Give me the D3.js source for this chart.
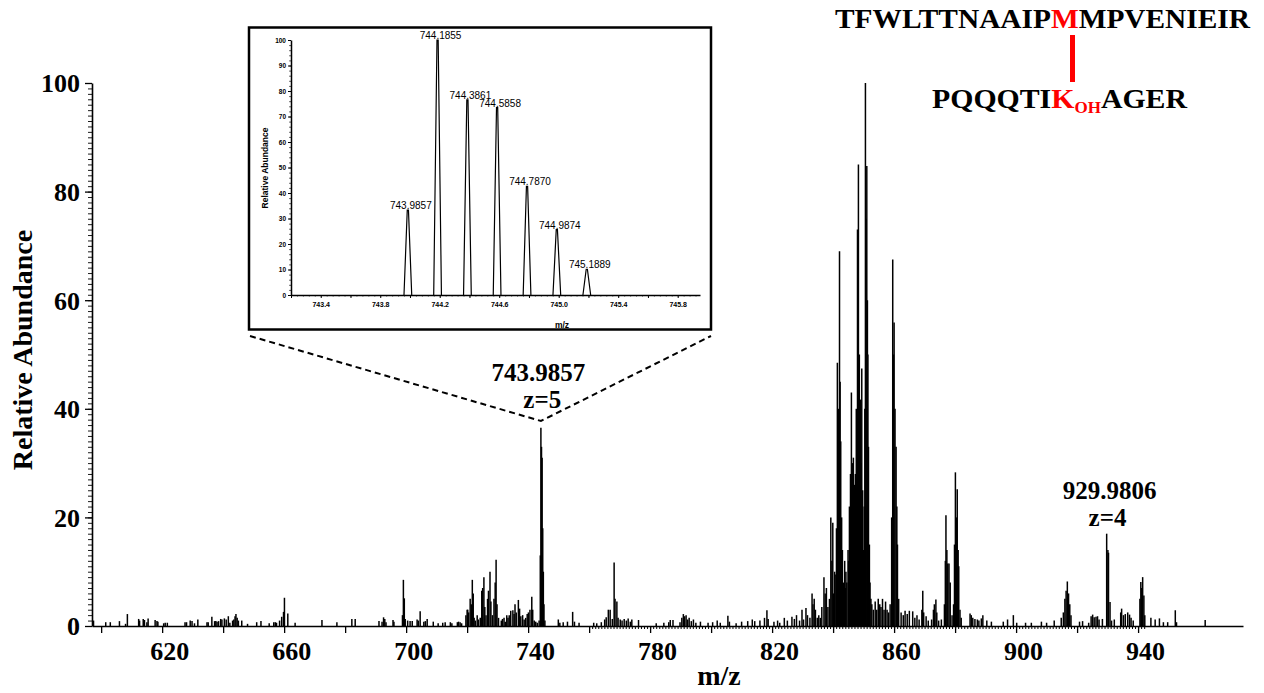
<!DOCTYPE html>
<html>
<head>
<meta charset="utf-8">
<script src="https://cdnjs.cloudflare.com/ajax/libs/d3/7.8.5/d3.min.js"></script>
<style>
  body { margin: 0; background: #fff; }
  svg { display: block; }
  .serif { font-family: "Liberation Serif", "Times New Roman", serif; font-weight: bold; }
  .sans { font-family: "Liberation Sans", Arial, sans-serif; }
</style>
</head>
<body>
<div class="chart"></div>
<script>
// ---- spectrum data: [m/z, relative abundance] ----
var peaksLow = [
  [597.5,1.0],[601.5,0.7],[603.0,0.7],[606.0,0.9],[608.0,0.4],[608.6,2.2],[612.3,1.3],[612.6,1.0],
  [613.8,1.3],[614.2,1.1],[615.0,0.7],[615.4,1.4],[617.7,1.1],[618.3,0.9],[618.6,0.8],[620.5,0.5],
  [621.0,0.6],[621.7,0.6],[627.5,0.7],[628.0,0.7],[629.2,1.0],[629.8,0.9],[630.6,0.5],[631.7,1.2],
  [634.7,0.7],[635.1,0.7],[636.3,1.7],[637.2,0.9],[637.6,0.9],[638.0,0.8],[638.5,0.9],[639.2,1.3],
  [639.6,1.2],[640.4,1.4],[641.0,1.2],[641.7,1.8],[642.2,0.6],[643.1,1.0],[643.5,1.2],[643.9,1.8],
  [644.2,2.2],[644.6,1.5],[645.0,1.0],[646.1,1.0],[648.0,0.4],[651.0,0.7],[652.4,0.9],[655.1,0.5],
  [656.6,0.7],[657.1,0.7],[657.5,0.6],[658.5,1.0],[659.2,1.7],[659.8,2.6],[660.1,5.2],[661.2,2.3],
  [663.6,0.6],[672.4,1.1],[677.3,0.7],[682.2,1.3],[683.3,1.3],[691.1,0.9],[692.1,0.8],[692.6,1.6],
  [693.0,1.3],[693.4,0.7],[695.7,1.1],[696.0,0.8],[698.8,2.0],[699.1,8.5],[699.4,5.1],[699.7,1.3]
];

var peaksMid = [
  [700.5,1.0],[701.3,0.9],[702.0,0.9],[703.6,1.2],[704.0,1.0],[704.6,2.7],[705.8,0.8],[706.3,0.9],
  [706.9,1.3],[708.9,0.8],[710.5,0.5],[712.0,0.6],[712.8,0.7],[714.5,0.7],[715.0,0.5],[716.8,0.7],
  [717.2,0.8],[717.7,0.7],[718.2,0.5],[719.6,2.0],[720.0,3.0],[720.2,3.0],[720.5,2.5],[721.0,5.0],
  [721.4,4.0],[721.7,8.5],[722.0,6.0],[722.3,1.5],[722.7,1.0],[723.3,2.0],[723.7,1.2],[724.3,1.5],
  [724.8,6.5],[725.1,7.0],[725.5,9.0],[725.8,3.5],[726.2,2.0],[726.7,5.0],[727.0,6.5],[727.5,10.0],
  [727.8,4.5],[728.3,2.0],[728.8,5.0],[729.2,8.0],[729.5,12.2],[729.8,4.0],[730.3,1.5],[731.2,1.0],
  [731.6,1.3],[732.1,1.5],[732.5,0.8],[733.0,2.0],[733.4,1.5],[733.8,2.0],[734.3,2.8],[735.0,2.9],
  [735.4,2.2],[735.7,4.0],[736.1,2.5],[736.8,4.8],[737.2,3.2],[737.6,1.8],[738.2,2.0],[738.7,1.2],
  [739.2,1.5],[739.7,2.2],[740.1,2.5],[740.6,3.0],[741.2,5.4],[741.5,3.0],[742.0,1.0],[742.5,0.8],
  [743.0,0.6],[743.6,1.0],[743.99,13.0],[744.19,36.5],[744.39,33.0],[744.59,31.0],[744.79,18.0],
  [744.99,10.0],[745.19,4.0],[745.5,1.0],[749.9,1.2],[750.4,0.6],[751.5,0.7],[752.9,0.8],[754.6,2.6],
  [755.2,0.8],[756.7,0.6]
];

var peaksUpper = [
  [761.5,0.6],[762.5,0.5],[764.0,0.7],[765.1,1.2],[765.6,1.6],[766.3,3.0],[766.9,3.0],[767.6,1.3],
  [768.2,11.7],[768.5,5.0],[769.1,4.5],[769.5,1.5],[770.2,1.2],[770.8,1.0],[771.5,1.3],[772.2,1.0],
  [772.8,1.4],[773.5,0.8],[774.0,1.2],[776.2,1.1],[782.0,0.5],[784.5,0.6],[786.1,0.7],[786.6,1.1],
  [787.5,1.1],[789.8,0.7],[790.4,1.5],[790.9,2.2],[791.3,1.8],[791.8,2.0],[792.3,1.2],[792.8,1.5],
  [793.5,0.9],[794.2,1.2],[795.0,0.6],[796.5,0.8],[799.0,0.6],[800.5,0.7],[802.0,1.0],[803.0,0.6],
  [805.5,1.9],[806.0,0.8],[808.2,0.5],[810.0,0.8],[812.0,0.9],[813.5,1.2],[814.3,0.9],[816.0,1.0],
  [817.5,1.5],[818.3,2.9],[818.7,1.3],[820.6,0.8],[821.8,1.0],[822.5,0.6],[824.0,1.5],[825.0,1.0],
  [826.5,1.7],[827.3,1.3],[828.0,2.0],[829.0,1.0],[829.8,3.0],[830.3,1.2],[831.1,3.3],[831.6,2.0],
  [832.4,1.5],[833.1,6.0],[833.4,4.0],[833.8,5.0],[834.2,3.0],[834.8,1.5],[835.3,2.0],[835.8,1.5],
  [836.3,3.5]
];

var peaksCluster = [
  [837.0,9.0],[837.4,6.0],[837.8,7.0],[838.3,3.5],[838.8,5.0],[839.25,20.0],[839.6,12.0],[839.9,19.0],
  [840.2,6.0],[840.5,10.0],[840.9,9.5],[841.1,18.0],[841.4,48.5],[841.7,40.0],[842.1,69.0],[842.3,45.0],
  [842.5,34.0],[842.8,20.0],[843.05,14.0],[843.35,8.0],[843.6,6.0],[843.8,12.0],[844.0,7.0],[844.2,10.0],
  [844.5,8.0],[844.9,14.0],[845.1,12.0],[845.35,22.0],[845.7,28.0],[846.0,43.0],[846.3,30.0],[846.65,31.0],
  [847.0,26.0],[847.3,28.0],[847.6,40.0],[848.0,73.0],[848.3,85.0],[848.6,50.0],[848.95,41.7],[849.2,30.0],
  [849.4,47.4],[849.7,25.0],[850.0,14.0],[850.2,22.0],[850.4,40.0],[850.6,100.0],[850.8,75.0],[851.05,84.7],
  [851.25,60.0],[851.4,50.0],[851.6,33.0],[851.9,15.0],[852.1,8.0],[852.4,5.0],[852.7,4.0],[853.2,3.0],
  [853.8,4.5],[854.3,3.0],[854.8,5.0],[855.3,4.0],[855.7,3.5],[856.2,5.0],[856.7,3.0],[857.2,4.5],
  [857.7,3.0],[858.2,2.5],[858.7,4.0],[859.2,20.0],[859.55,67.5],[859.8,50.0],[860.0,55.9],[860.3,40.0],
  [860.65,33.0],[860.9,22.0],[861.1,15.0],[861.5,5.0],[862.3,2.5],[863.0,2.0],[863.6,2.8],[864.3,2.2],
  [865.0,2.8],[866.1,2.7]
];

var peaksHigh = [
  [866.8,1.5],[867.5,2.0],[868.2,1.2],[869.1,3.0],[869.4,6.5],[869.7,2.5],[870.5,1.8],[871.2,1.0],
  [872.3,1.2],[872.9,3.0],[873.2,4.0],[873.7,4.9],[874.0,2.5],[874.6,1.0],[875.5,1.2],[876.5,4.0],
  [876.8,12.0],[877.0,20.4],[877.3,14.0],[877.6,11.5],[878.0,11.5],[878.4,8.0],[879.0,2.0],[879.5,4.0],
  [879.8,15.0],[880.1,28.3],[880.4,20.0],[880.7,25.2],[881.0,14.0],[881.2,11.0],[881.6,3.0],[882.0,1.5],
  [884.9,2.3],[885.3,2.0],[885.8,1.5],[886.5,1.3],[887.3,1.2],[887.8,1.0],[888.6,1.4],[889.1,2.0],
  [890.4,1.0],[891.9,0.8],[895.8,0.8],[897.2,1.2],[899.1,2.0],[900.2,0.6],[903.1,0.6],[905.0,0.6],
  [908.3,0.8],[910.0,0.6],[912.5,1.0],[914.8,1.5],[915.5,2.5],[916.0,5.0],[916.4,6.5],[916.8,8.2],
  [917.2,6.0],[917.6,4.0],[918.0,2.0],[920.8,0.8],[921.8,0.9],[923.8,0.6],[924.6,1.8],[925.1,2.1],
  [925.6,1.6],[926.2,1.7],[926.7,1.8],[927.2,1.2],[928.3,1.3],[929.7,17.0],[930.1,14.0],[930.3,13.5],
  [930.8,4.4],[931.3,1.0],[932.2,1.2],[934.3,2.5],[934.6,3.2],[935.2,2.0],[935.8,2.2],[936.6,2.5],
  [937.2,2.1],[937.7,1.5],[938.4,1.0],[940.6,5.0],[940.9,8.1],[941.2,7.0],[941.5,9.0],[941.9,5.6],
  [942.2,2.0],[944.2,1.5],[945.6,1.2],[947.0,1.4],[948.3,0.7],[949.7,0.7],[952.2,2.9],[952.6,0.7],
  [962.0,1.1]
];

// zoomed isotope cluster (inset)
var insetMz = [743.9857, 744.1855, 744.3861, 744.5858, 744.7870, 744.9874, 745.1889];
var insetInt = [33.3, 100, 76.5, 73.5, 42.6, 25.6, 10.1];

// tick values
var xTicks = d3.range(600, 941, 20);
var xLabels = [620, 660, 700, 740, 780, 820, 860, 900, 940];
var yTicks = [0, 20, 40, 60, 80, 100];
var insetXLabels = [743.4, 743.8, 744.2, 744.6, 745.0, 745.4, 745.8];
var insetYTicks = d3.range(0, 101, 10);

var allPeaks = peaksLow.concat(peaksMid, peaksUpper, peaksCluster, peaksHigh);

var svgWidth = 1264;
var svgHeight = 693;

var svg = d3.select(".chart")
  .append("svg")
  .attr("width", svgWidth)
  .attr("height", svgHeight);

svg.append("rect")
  .attr("width", svgWidth)
  .attr("height", svgHeight)
  .attr("fill", "#fff");

// scales
var xScale = d3.scaleLinear().domain([597, 974.4]).range([92, 1243]);
var yScale = d3.scaleLinear().domain([0, 100]).range([626, 83]);

// peaks
svg.append("g")
  .selectAll("line")
  .data(allPeaks)
  .enter()
  .append("line")
  .attr("x1", d => xScale(d[0]))
  .attr("x2", d => xScale(d[0]))
  .attr("y1", yScale(0))
  .attr("y2", d => yScale(d[1]))
  .attr("stroke", "#000")
  .attr("stroke-width", 1.5);

// x axis (minor ticks first)
svg.append("g")
  .attr("transform", `translate(0, ${yScale(0)})`)
  .call(d3.axisBottom(xScale).tickValues(d3.range(761, 943, 1)).tickSize(3).tickFormat(""))
  .call(g => g.select(".domain").remove())
  .selectAll("line").attr("stroke-width", 1);

var xAxis = svg.append("g")
  .attr("transform", `translate(0, ${yScale(0)})`)
  .call(d3.axisBottom(xScale)
    .tickValues(xTicks)
    .tickSize(7)
    .tickSizeOuter(0)
    .tickFormat(d => xLabels.indexOf(d) >= 0 ? d : ""));
xAxis.select(".domain").attr("stroke-width", 1.6);
xAxis.selectAll("line").attr("stroke-width", 1.3);
xAxis.selectAll("text")
  .attr("class", "serif")
  .attr("font-size", 26)
  .attr("fill", "#000")
  .attr("x", 7)
  .attr("y", 16);

// y axis
svg.append("g")
  .attr("transform", `translate(${xScale(597)}, 0)`)
  .call(d3.axisLeft(yScale).tickValues(d3.range(0, 101, 1)).tickSize(4).tickFormat(""))
  .call(g => g.select(".domain").remove())
  .selectAll("line").attr("stroke-width", 0.9);

var yAxis = svg.append("g")
  .attr("transform", `translate(${xScale(597)}, 0)`)
  .call(d3.axisLeft(yScale).tickValues(yTicks).tickSize(7).tickSizeOuter(0));
yAxis.select(".domain").attr("stroke-width", 1.6);
yAxis.selectAll("line").attr("stroke-width", 1.3);
yAxis.selectAll("text")
  .attr("class", "serif")
  .attr("font-size", 26)
  .attr("fill", "#000")
  .attr("x", -12)
  .attr("dy", "0.34em");

// axis titles
svg.append("text")
  .attr("class", "serif")
  .attr("font-size", 28)
  .attr("text-anchor", "middle")
  .attr("transform", "translate(32, 350) rotate(-90)")
  .text("Relative Abundance");

svg.append("text")
  .attr("class", "serif")
  .attr("font-size", 28)
  .attr("text-anchor", "middle")
  .attr("x", 719)
  .attr("y", 685)
  .text("m/z");

// peak annotations
var notes = [
  { x: xScale(743.9857) - 2, y: 381, t: "743.9857" },
  { x: xScale(743.9857) + 2, y: 408, t: "z=5" },
  { x: xScale(929.9806) + 2, y: 499, t: "929.9806" },
  { x: xScale(929.9806), y: 526, t: "z=4" }
];
svg.selectAll("text.note")
  .data(notes)
  .enter()
  .append("text")
  .attr("class", "serif note")
  .attr("font-size", 25)
  .attr("text-anchor", "middle")
  .attr("x", d => d.x)
  .attr("y", d => d.y)
  .text(d => d.t);

// dashed zoom lines
var apex = [xScale(744.2), 421];
svg.append("path")
  .attr("d", `M250,336 L${apex[0]},${apex[1]} L711,336`)
  .attr("fill", "none")
  .attr("stroke", "#000")
  .attr("stroke-width", 2)
  .attr("stroke-dasharray", "6,4");

// ---- inset ----
var inset = svg.append("g");
inset.append("rect")
  .attr("x", 249)
  .attr("y", 27.5)
  .attr("width", 462)
  .attr("height", 302)
  .attr("fill", "#fff")
  .attr("stroke", "#000")
  .attr("stroke-width", 2.5);

var xIn = d3.scaleLinear().domain([743.2, 745.95]).range([291, 700]);
var yIn = d3.scaleLinear().domain([0, 100]).range([295, 40]);

var profile = d3.line().x(d => xIn(d[0])).y(d => yIn(d[1]));
inset.selectAll("path.iso")
  .data(insetMz)
  .enter()
  .append("path")
  .attr("class", "iso")
  .attr("d", (d, i) => profile([[d - 0.026, 0], [d - 0.004, insetInt[i]], [d + 0.004, insetInt[i]], [d + 0.026, 0]]))
  .attr("fill", "none")
  .attr("stroke", "#000")
  .attr("stroke-width", 1.2);

inset.selectAll("text.isolabel")
  .data(insetMz)
  .enter()
  .append("text")
  .attr("class", "sans isolabel")
  .attr("font-size", 10)
  .attr("text-anchor", "middle")
  .attr("x", d => xIn(d) + 3)
  .attr("y", (d, i) => yIn(insetInt[i]) - 1)
  .text(d => d.toFixed(4));

// inset axes
inset.append("g")
  .attr("transform", `translate(0, ${yIn(0)})`)
  .call(d3.axisBottom(xIn).tickValues(d3.range(743.24, 745.93, 0.04)).tickSize(1.5).tickFormat(""))
  .call(g => g.select(".domain").remove())
  .selectAll("line").attr("stroke-width", 0.7);

var xInAxis = inset.append("g")
  .attr("transform", `translate(0, ${yIn(0)})`)
  .call(d3.axisBottom(xIn)
    .tickValues(d3.range(743.2, 745.9, 0.2))
    .tickSize(3)
    .tickSizeOuter(0)
    .tickFormat(d => insetXLabels.some(v => Math.abs(v - d) < 1e-6) ? d3.format(".1f")(d) : ""));
xInAxis.select(".domain").attr("stroke-width", 1.5);
xInAxis.selectAll("text")
  .attr("class", "sans")
  .attr("font-size", 7)
  .attr("font-weight", "bold")
  .attr("fill", "#000")
  .attr("y", 7);

inset.append("g")
  .attr("transform", `translate(${xIn(743.2)}, 0)`)
  .call(d3.axisLeft(yIn).tickValues(d3.range(0, 101, 2)).tickSize(1.8).tickFormat(""))
  .call(g => g.select(".domain").remove())
  .selectAll("line").attr("stroke-width", 0.7);

var yInAxis = inset.append("g")
  .attr("transform", `translate(${xIn(743.2)}, 0)`)
  .call(d3.axisLeft(yIn).tickValues(insetYTicks).tickSize(3).tickSizeOuter(0));
yInAxis.select(".domain").attr("stroke-width", 1.5);
yInAxis.selectAll("text")
  .attr("class", "sans")
  .attr("font-size", 6.5)
  .attr("font-weight", "bold")
  .attr("fill", "#000")
  .attr("x", -5);

inset.append("text")
  .attr("class", "sans")
  .attr("font-size", 8.5)
  .attr("font-weight", "bold")
  .attr("text-anchor", "middle")
  .attr("transform", "translate(268, 168) rotate(-90)")
  .text("Relative Abundance");

inset.append("text")
  .attr("class", "sans")
  .attr("font-size", 8.5)
  .attr("font-weight", "bold")
  .attr("text-anchor", "middle")
  .attr("x", 562)
  .attr("y", 328)
  .text("m/z");

// ---- cross-linked peptide annotation ----
var pep1 = svg.append("text")
  .attr("class", "serif")
  .attr("font-size", 28)
  .attr("x", 835)
  .attr("y", 28)
  .attr("textLength", 415)
  .attr("lengthAdjust", "spacingAndGlyphs");
pep1.append("tspan").text("TFWLTTNAAIP");
pep1.append("tspan").attr("fill", "#ff0000").text("M");
pep1.append("tspan").text("MPVENIEIR");

svg.append("rect")
  .attr("x", 1070)
  .attr("y", 35)
  .attr("width", 5)
  .attr("height", 47)
  .attr("fill", "#ff0000");

var pep2 = svg.append("text")
  .attr("class", "serif")
  .attr("font-size", 28)
  .attr("x", 932)
  .attr("y", 108)
  .attr("textLength", 255)
  .attr("lengthAdjust", "spacingAndGlyphs");
pep2.append("tspan").text("PQQQTI");
pep2.append("tspan").attr("fill", "#ff0000").text("K");
pep2.append("tspan").attr("fill", "#ff0000").attr("font-size", 16).attr("dy", 5).text("OH");
pep2.append("tspan").attr("dy", -5).text("AGER");
</script>
</body>
</html>
